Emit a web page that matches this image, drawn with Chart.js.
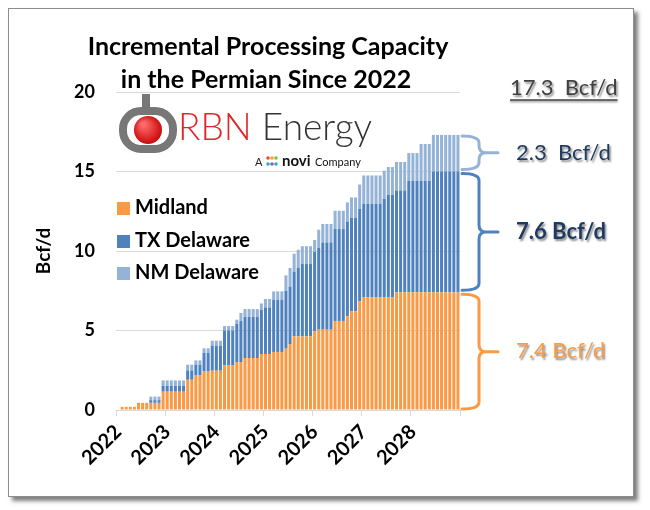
<!DOCTYPE html>
<html>
<head>
<meta charset="utf-8">
<title>Incremental Processing Capacity in the Permian Since 2022</title>
<script src="https://cdn.jsdelivr.net/npm/chart.js@4/dist/chart.umd.min.js"></script>
<style>
  html, body { margin: 0; padding: 0; background: #fff; }
  #wrap { position: relative; width: 650px; height: 510px; overflow: hidden; }
  #frame { position: absolute; left: 8px; top: 8px; width: 624px; height: 487px;
           border: 1px solid #8c8c8c; box-shadow: 4px 4px 4px rgba(0,0,0,0.5); background: #fff; }
  canvas { position: absolute; left: 0; top: 0; }
</style>
</head>
<body>
<div id="wrap">
  <div id="frame"></div>
  <canvas id="chart" width="650" height="510"></canvas>
</div>
<script>
// Monthly incremental processing capacity (Bcf/d), Jan 2022 - Dec 2028
const years = ['2022', '2023', '2024', '2025', '2026', '2027', '2028'];

const midland = [
  0, 0.2, 0.2, 0.2, 0.2, 0.45, 0.45, 0.45, 0.45, 0.45, 0.45, 1.15,
  1.15, 1.15, 1.15, 1.15, 1.15, 1.9, 1.9, 2.2, 2.2, 2.45, 2.45, 2.47,
  2.47, 2.47, 2.8, 2.8, 2.8, 3.02, 3.02, 3.27, 3.27, 3.27, 3.27, 3.52,
  3.52, 3.52, 3.65, 3.65, 3.65, 3.86, 4.15, 4.63, 4.63, 4.63, 4.63, 4.63,
  4.94, 5.05, 5.05, 5.05, 5.05, 5.6, 5.6, 5.6, 5.89, 6.2, 6.2, 6.83,
  7.1, 7.1, 7.1, 7.1, 7.1, 7.1, 7.1, 7.1, 7.4, 7.4, 7.4, 7.4,
  7.4, 7.4, 7.4, 7.4, 7.4, 7.4, 7.4, 7.4, 7.4, 7.4, 7.4, 7.4
];

const txDelaware = [
  0, 0, 0, 0, 0, 0, 0, 0, 0.17, 0.17, 0.17, 0.38,
  0.38, 0.38, 0.38, 0.38, 0.38, 0.59, 0.59, 0.65, 0.65, 1.15, 1.15, 1.58,
  1.58, 1.58, 2.2, 2.2, 2.2, 2.39, 2.58, 2.58, 2.58, 2.58, 2.58, 2.78,
  2.93, 2.93, 3.29, 3.29, 3.29, 3.65, 3.61, 4.07, 4.32, 4.55, 4.55, 4.55,
  5.0, 5.14, 5.49, 5.49, 5.49, 5.78, 5.78, 5.78, 5.97, 5.88, 5.88, 5.81,
  5.87, 5.87, 5.87, 5.87, 5.87, 6.19, 6.44, 6.44, 6.41, 6.41, 6.41, 7.02,
  7.02, 7.02, 7.02, 7.02, 7.02, 7.6, 7.6, 7.6, 7.6, 7.6, 7.6, 7.6
];

const nmDelaware = [
  0, 0, 0, 0, 0, 0, 0, 0, 0.22, 0.22, 0.22, 0.33,
  0.33, 0.33, 0.33, 0.33, 0.33, 0.36, 0.36, 0.27, 0.27, 0.28, 0.28, 0.31,
  0.31, 0.31, 0.28, 0.28, 0.28, 0.27, 0.5, 0.5, 0.5, 0.5, 0.5, 0.4,
  0.53, 0.53, 0.52, 0.52, 0.52, 0.96, 1.17, 1.13, 1.13, 1.12, 1.12, 1.12,
  0.75, 1.15, 1.16, 1.16, 1.16, 1.15, 1.15, 1.15, 1.2, 1.29, 1.29, 1.54,
  1.78, 1.78, 1.78, 1.78, 1.78, 1.76, 1.74, 1.74, 1.79, 1.79, 1.79, 1.74,
  1.74, 1.74, 2.31, 2.31, 2.31, 2.3, 2.3, 2.3, 2.3, 2.3, 2.3, 2.3
];

const months = [];
for (const y of years) for (let m = 1; m <= 12; m++) months.push(y + '-' + String(m).padStart(2, '0'));

const colors = {
  midland: '#FB9A45',
  tx: '#4F81BD',
  nm: '#95B3D7',
  navy: '#1F3A5F',
  grid: '#D9D9D9',
};
const FONT = 'Lato, "Open Sans", sans-serif';

// curly brace pointing right, from top to bottom pixel
function brace(ctx, x0, top, bot, color) {
  const x1 = x0 + 17, tip = x0 + 36, r = 7, mid = (top + bot) / 2;
  ctx.save();
  ctx.strokeStyle = color;
  ctx.lineWidth = 3;
  ctx.lineCap = 'round';
  ctx.beginPath();
  ctx.moveTo(x0, top);
  ctx.quadraticCurveTo(x1, top, x1, top + r);
  ctx.lineTo(x1, mid - r);
  ctx.quadraticCurveTo(x1, mid, x1 + r, mid);
  ctx.lineTo(tip, mid);
  ctx.moveTo(x1 + r, mid);
  ctx.quadraticCurveTo(x1, mid, x1, mid + r);
  ctx.lineTo(x1, bot - r);
  ctx.quadraticCurveTo(x1, bot, x0, bot);
  ctx.stroke();
  ctx.restore();
}

function shadowText(ctx, text, x, y, font, color) {
  ctx.save();
  ctx.font = font;
  ctx.fillStyle = color;
  ctx.shadowColor = 'rgba(0,0,0,0.45)';
  ctx.shadowOffsetX = 1.5;
  ctx.shadowOffsetY = 1.5;
  ctx.shadowBlur = 2;
  ctx.fillText(text, x, y);
  ctx.restore();
}

const decor = {
  id: 'decor',
  afterDraw(chart) {
    const ctx = chart.ctx;
    const ys = chart.scales.y;
    ctx.save();
    ctx.textBaseline = 'middle';

    // title
    ctx.fillStyle = '#000';
    ctx.textAlign = 'center';
    ctx.font = 'bold 25px ' + FONT;
    ctx.fillText('Incremental Processing Capacity', 268, 47);
    ctx.fillText('in the Permian Since 2022', 266, 80);

    // logo mark
    ctx.lineWidth = 8;
    ctx.strokeStyle = '#777';
    ctx.beginPath();
    ctx.moveTo(146, 94);
    ctx.lineTo(146, 112);
    ctx.stroke();
    ctx.beginPath();
    ctx.roundRect(123, 111, 50, 38, 18);
    ctx.stroke();
    const g = ctx.createRadialGradient(143, 124, 2, 148, 130, 16);
    g.addColorStop(0, '#ff6a6a');
    g.addColorStop(1, '#c40000');
    ctx.fillStyle = g;
    ctx.beginPath();
    ctx.arc(148, 130, 14, 0, Math.PI * 2);
    ctx.fill();

    ctx.textAlign = 'left';
    ctx.font = '300 37px ' + FONT;
    ctx.fillStyle = '#e0262b';
    ctx.fillText('RBN', 178, 128);
    const w = ctx.measureText('RBN ').width;
    ctx.fillStyle = '#333';
    ctx.fillText('Energy', 178 + w, 128);

    ctx.font = '11px ' + FONT;
    ctx.fillStyle = '#222';
    ctx.fillText('A', 255, 162);
    const dots = ['#e94b3c', '#f6a623', '#7ac143', '#2aa9e0', '#8e5ea2', '#2aa9e0'];
    dots.forEach((c, i) => {
      ctx.fillStyle = c;
      ctx.beginPath();
      ctx.arc(268 + (i % 3) * 4, 158 + Math.floor(i / 3) * 6, 1.8, 0, Math.PI * 2);
      ctx.fill();
    });
    ctx.fillStyle = '#111';
    ctx.font = 'bold 15px ' + FONT;
    ctx.fillText('novi', 282, 161);
    ctx.font = '11px ' + FONT;
    ctx.fillText('Company', 315, 162);

    // legend
    const items = chart.data.datasets;
    const legendY = [208, 241, 273];
    ctx.font = 'bold 20px ' + FONT;
    items.forEach((ds, i) => {
      ctx.fillStyle = ds.backgroundColor;
      ctx.fillRect(117, legendY[i] - 6, 13, 13);
      ctx.fillStyle = '#000';
      ctx.fillText(ds.label, 135, legendY[i]);
    });

    // braces with end-of-period totals
    const n = midland.length - 1;
    const mid = midland[n], tx = mid + txDelaware[n], tot = tx + nmDelaware[n];
    const p0 = ys.getPixelForValue(0), p1 = ys.getPixelForValue(mid);
    const p2 = ys.getPixelForValue(tx), p3 = ys.getPixelForValue(tot);
    const bx = chart.chartArea.right + 2;
    brace(ctx, bx, p3 + 1, p2 - 2, colors.nm);
    brace(ctx, bx, p2 + 2, p1 - 2, colors.tx);
    brace(ctx, bx, p1 + 2, p0 - 1, colors.midland);

    shadowText(ctx, nmDelaware[n].toFixed(1) + '  Bcf/d', 516, (p3 + p2) / 2, '22px ' + FONT, colors.navy);
    shadowText(ctx, txDelaware[n].toFixed(1) + ' Bcf/d', 516, (p2 + p1) / 2, 'bold 22px ' + FONT, colors.navy);
    shadowText(ctx, mid.toFixed(1) + ' Bcf/d', 516, (p1 + p0) / 2, '22px ' + FONT, colors.midland);

    // grand total, underlined
    const totalText = tot.toFixed(1) + '  Bcf/d';
    shadowText(ctx, totalText, 510, 88, '22px ' + FONT, '#404040');
    ctx.font = '22px ' + FONT;
    const tw = ctx.measureText(totalText).width;
    ctx.strokeStyle = '#404040';
    ctx.lineWidth = 1.5;
    ctx.shadowColor = 'rgba(0,0,0,0.45)';
    ctx.shadowOffsetY = 1.5;
    ctx.shadowBlur = 2;
    ctx.beginPath();
    ctx.moveTo(510, 100);
    ctx.lineTo(510 + tw, 100);
    ctx.stroke();
    ctx.restore();
  }
};

const barStyle = { barPercentage: 0.74, categoryPercentage: 1, borderWidth: 0 };

new Chart(document.getElementById('chart'), {
  type: 'bar',
  data: {
    labels: months,
    datasets: [
      { label: 'Midland', data: midland, backgroundColor: colors.midland, ...barStyle },
      { label: 'TX Delaware', data: txDelaware, backgroundColor: colors.tx, ...barStyle },
      { label: 'NM Delaware', data: nmDelaware, backgroundColor: colors.nm, ...barStyle },
    ]
  },
  options: {
    responsive: false,
    animation: false,
    layout: { padding: { left: 28, right: 190, top: 92, bottom: 30 } },
    plugins: { legend: { display: false }, tooltip: { enabled: false } },
    scales: {
      x: {
        stacked: true,
        grid: {
          drawOnChartArea: false,
          tickLength: 6,
          color: c => (c.index === undefined || c.index % 12 === 0) ? colors.grid : 'rgba(0,0,0,0)',
        },
        border: { color: colors.grid },
        ticks: {
          autoSkip: false,
          minRotation: 45,
          maxRotation: 45,
          padding: 4,
          color: '#000',
          font: { family: FONT, weight: 'bold', size: 20 },
          callback: (v, i) => i % 12 === 0 ? years[i / 12] : '',
        },
        afterFit: s => { s.height = 70; },
      },
      y: {
        stacked: true,
        min: 0,
        max: 20,
        ticks: { stepSize: 5, padding: 21, color: '#000', font: { family: FONT, weight: 'bold', size: 18 } },
        grid: { color: colors.grid, drawTicks: false },
        border: { display: false },
        title: { display: true, text: 'Bcf/d', color: '#000', font: { family: FONT, weight: 'bold', size: 19 } },
        afterFit: s => { s.width = 88; },
      }
    }
  },
  plugins: [decor]
});
</script>
</body>
</html>
